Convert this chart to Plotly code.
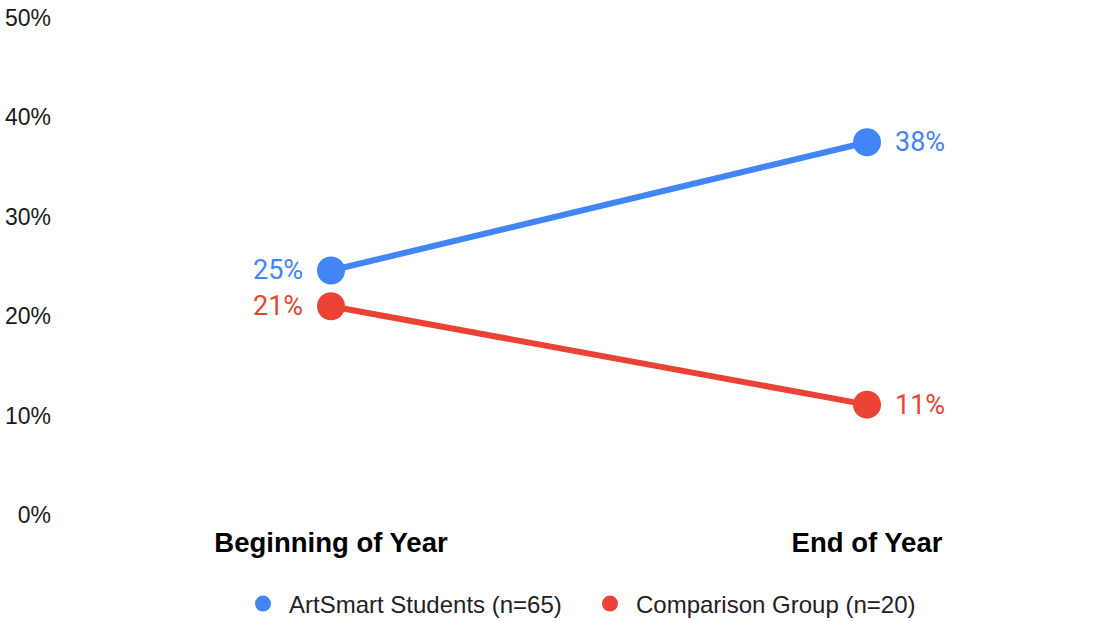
import plotly.graph_objects as go

categories = ["Beginning of Year", "End of Year"]
artsmart = [24.6, 37.5]
comparison = [21.0, 11.1]
artsmart_labels = ["25%", "38%"]
comparison_labels = ["21%", "11%"]
series_names = ["ArtSmart Students (n=65)", "Comparison Group (n=20)"]
y_ticks = [0, 10, 20, 30, 40, 50]
y_tick_labels = ["0%", "10%", "20%", "30%", "40%", "50%"]

BLUE = "#4285F4"
RED = "#EA4335"

fig = go.Figure()
for vals, color in [(artsmart, BLUE), (comparison, RED)]:
    fig.add_trace(go.Scatter(
        x=[0, 1], y=vals, mode="lines+markers",
        line=dict(color=color, width=6),
        marker=dict(color=color, size=28),
        showlegend=False, hoverinfo="skip", cliponaxis=False,
    ))
for name, color in zip(series_names, [BLUE, RED]):
    fig.add_trace(go.Scatter(
        x=[None], y=[None], mode="markers", name=name,
        marker=dict(color=color, size=22),
    ))

for vals, labels, color in [(artsmart, artsmart_labels, BLUE), (comparison, comparison_labels, RED)]:
    for i, (v, lab) in enumerate(zip(vals, labels)):
        fig.add_annotation(
            x=i, y=v, text=lab, showarrow=False,
            xanchor="right" if i == 0 else "left", yanchor="middle",
            xshift=-26 if i == 0 else 26,
            font=dict(family="Roboto", size=27, color=color),
        )

W, H = 1117, 621
L, R, T, B = 60, 20, 18, 106
pw = W - L - R
x0px, x1px = 331, 867
unit = (x1px - x0px)
xmin = -(x0px - L) / unit
xmax = 1 + ((W - R) - x1px) / unit

fig.update_layout(
    width=W, height=H,
    margin=dict(l=L, r=R, t=T, b=B, autoexpand=False),
    plot_bgcolor="white", paper_bgcolor="white",
    font=dict(family="Liberation Sans, Arial", color="#222222"),
    xaxis=dict(
        range=[xmin, xmax], tickmode="array", tickvals=[0, 1],
        ticktext=[f"<b>{c}</b>" for c in categories],
        tickfont=dict(size=27.5, color="#000000"),
        showgrid=False, zeroline=False, showline=False, ticks="",
        ticklabelstandoff=8, automargin=False,
    ),
    yaxis=dict(
        range=[0, 50], tickmode="array", tickvals=y_ticks, ticktext=y_tick_labels,
        tickfont=dict(size=23, color="#1a1a1a"),
        showgrid=False, zeroline=False, showline=False, ticks="",
        ticklabelstandoff=8, automargin=False,
    ),
    legend=dict(
        orientation="h", x=(584 - L) / pw, xanchor="center",
        yref="container", y=(H - 604) / H, yanchor="middle",
        font=dict(size=24, color="#222222"),
        itemsizing="trace", itemwidth=42,
        entrywidth=290, entrywidthmode="pixels",
    ),
)
fig.write_html("out.html")
